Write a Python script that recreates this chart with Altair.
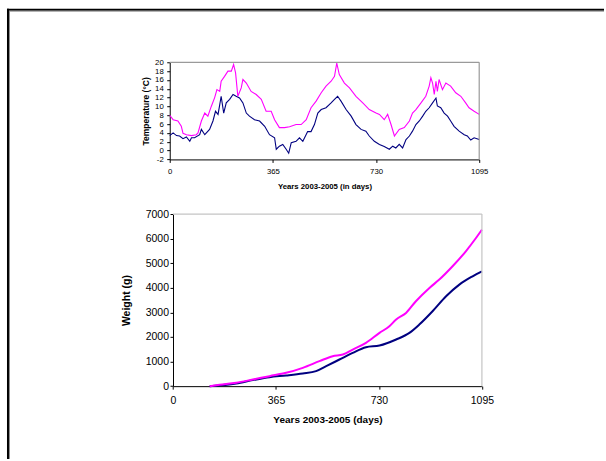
import altair as alt
import pandas as pd

# Daily water temperature (°C) over three years, two rearing sites
warm_days = [0, 12, 29, 41, 47, 59, 77, 94, 100, 112, 124, 135, 147, 159, 167, 177, 182, 194,
             206, 218, 226, 233, 241, 253, 259, 271, 288, 306, 324, 341, 359, 371, 388, 406,
             424, 447, 465, 483, 500, 518, 536, 553, 571, 583, 591, 600, 618, 636, 659, 683,
             706, 730, 742, 759, 771, 783, 795, 812, 830, 848, 859, 871, 889, 906, 918, 924,
             930, 936, 942, 947, 953, 965, 977, 994, 1012, 1030, 1047, 1059, 1077, 1095]
warm_temp = [8.0, 7.0, 6.7, 5.5, 3.9, 3.6, 3.4, 3.6, 4.0, 6.7, 8.5, 7.8, 10.0, 12.0, 13.8, 13.4,
             15.7, 16.8, 18.0, 18.0, 19.5, 17.6, 12.3, 14.2, 16.1, 15.3, 13.4, 12.7, 11.6, 8.9,
             8.9, 7.0, 5.2, 5.2, 5.4, 5.9, 5.9, 7.0, 9.7, 11.2, 13.1, 14.6, 15.7, 16.8, 19.8,
             17.2, 15.3, 14.2, 12.3, 10.8, 9.3, 8.5, 8.2, 7.0, 8.2, 5.9, 3.3, 4.8, 5.2, 6.7, 8.5,
             9.3, 10.8, 12.3, 14.6, 16.5, 15.3, 12.7, 15.7, 13.4, 16.1, 13.8, 15.3, 14.6, 13.1,
             12.3, 10.8, 9.7, 8.9, 8.2]

cool_days = [0, 12, 24, 35, 47, 59, 71, 77, 88, 106, 112, 124, 141, 153, 162, 171, 177, 182,
             191, 200, 212, 224, 235, 247, 259, 271, 282, 300, 318, 336, 353, 371, 377, 388,
             400, 412, 421, 430, 447, 459, 471, 488, 500, 512, 524, 536, 553, 571, 583, 594,
             606, 624, 642, 659, 677, 694, 706, 724, 742, 759, 777, 789, 800, 812, 824, 836,
             848, 859, 871, 883, 895, 906, 918, 930, 942, 947, 959, 971, 983, 994, 1006, 1024,
             1042, 1053, 1065, 1077, 1095]
cool_temp = [3.4, 4.0, 3.4, 3.3, 2.7, 3.1, 2.1, 2.9, 2.9, 3.6, 4.8, 3.6, 4.8, 6.7, 8.9, 8.2,
             10.4, 12.3, 8.5, 10.8, 11.6, 12.7, 12.3, 11.9, 10.8, 8.5, 7.8, 7.0, 6.7, 5.5, 3.6,
             2.9, 0.3, 1.0, 1.4, 0.3, -0.6, 1.8, 2.1, 2.9, 2.1, 4.3, 4.3, 5.9, 8.5, 9.3, 9.7,
             10.8, 11.6, 12.3, 11.2, 9.3, 7.8, 5.9, 4.8, 4.4, 3.3, 2.1, 1.4, 0.9, 0.3, 1.0, 0.6,
             1.4, 0.6, 2.5, 3.3, 4.4, 5.9, 6.7, 7.8, 8.9, 9.7, 10.8, 11.9, 10.1, 9.7, 8.5, 7.8,
             6.7, 5.5, 4.4, 3.6, 3.3, 2.4, 2.9, 2.5]

# Mean fish weight (g) at each site
wt_warm_days = [130, 165, 224, 283, 342, 401, 460, 519, 566, 602, 637, 684, 732, 767, 791,
                826, 861, 909, 944, 991, 1038, 1074, 1095]
wt_warm = [0, 54, 135, 270, 406, 541, 745, 1015, 1219, 1286, 1489, 1760, 2166, 2437, 2708,
           2979, 3453, 3994, 4333, 4874, 5484, 6025, 6364]
wt_cool_days = [130, 224, 283, 342, 401, 460, 507, 543, 590, 637, 684, 732, 791, 838, 873,
                920, 968, 1015, 1062, 1095]
wt_cool = [0, 108, 244, 366, 433, 514, 609, 812, 1083, 1354, 1584, 1652, 1896, 2166, 2505,
           3047, 3656, 4130, 4468, 4671]

day_ticks = [0, 365, 730, 1095]
temp_ticks = list(range(-2, 21, 2))
weight_ticks = list(range(0, 7001, 1000))

FONT = "Liberation Sans"
PINK = "#FF00FF"
NAVY = "#000080"
PLAIN = "'' + datum.value"  # hyphen-minus, no thousands separator

warm_df = pd.DataFrame({"day": warm_days, "temp": warm_temp})
cool_df = pd.DataFrame({"day": cool_days, "temp": cool_temp})
wwarm_df = pd.DataFrame({"day": wt_warm_days, "weight": wt_warm})
wcool_df = pd.DataFrame({"day": wt_cool_days, "weight": wt_cool})
one = pd.DataFrame({"k": [0]})


def axis(**kw):
    return alt.Axis(labelExpr=PLAIN, labelOverlap=False, labelFlush=False, labelBound=False,
                    tickCount=len(kw.get("values", [])) or 5, **kw)


# ---------- temperature panel ----------
W1, H1 = 310, 97.3
tx = alt.X("day:Q", scale=alt.Scale(domain=[0, 1095], nice=False, zero=False),
           axis=axis(values=day_ticks, title="Years 2003-2005 (in days)",
                     labelFontSize=7.8, tickSize=3, labelPadding=5.5,
                     titleFontSize=7.8, titleY=26.7, titleBaseline="middle"))
ty = alt.Y("temp:Q", scale=alt.Scale(domain=[-2, 20], nice=False, zero=False),
           axis=axis(values=temp_ticks, title="Temperature (°C)",
                     labelFontSize=7.8, tickSize=3, labelPadding=3.5,
                     titleFontSize=8.5, titleAngle=270, titleX=-24, titleY=H1 / 2,
                     titleAlign="center", titleBaseline="middle"))

cool_line = alt.Chart(cool_df).mark_line(color=NAVY, strokeWidth=1.1).encode(x=tx, y=ty)
warm_line = alt.Chart(warm_df).mark_line(color=PINK, strokeWidth=1.1).encode(x="day:Q", y="temp:Q")


def rule(color, width, **enc):
    return alt.Chart(one).mark_rule(color=color, strokeWidth=width).encode(**enc)


top_border = rule("#9a9a9a", 1.2, x=alt.value(0), x2=alt.value(W1), y=alt.value(0))
right_border = rule("#9a9a9a", 1.2, x=alt.value(W1), y=alt.value(0), y2=alt.value(H1))

# page frame (drawn relative to the temperature panel)
frame = [
    rule("#000000", 2, x=alt.value(-162), y=alt.value(-53.7), y2=alt.value(397.3)),
    rule("#8c8c8c", 1, x=alt.value(-160.5), y=alt.value(-51.7), y2=alt.value(397.3)),
    rule("#000000", 2, x=alt.value(-163), x2=alt.value(435), y=alt.value(-52.7)),
    rule("#8c8c8c", 1, x=alt.value(-161), x2=alt.value(435), y=alt.value(-51.2)),
]

temp_panel = alt.layer(cool_line, warm_line, top_border, right_border, *frame).properties(
    width=W1, height=H1)

# ---------- weight panel ----------
W2, H2 = 313, 172.4
X0 = 3.3
wx = alt.X("day:Q", scale=alt.Scale(domain=[0, 1095], nice=False, zero=False, range=[X0, W2 - 0.3]),
           axis=axis(values=day_ticks, title="Years 2003-2005 (days)",
                     labelFontSize=10.5, tickSize=3, labelPadding=6,
                     titleFontSize=10, titleY=33.3, titleBaseline="middle"))
wy = alt.Y("weight:Q", scale=alt.Scale(domain=[0, 7000], nice=False),
           axis=axis(values=weight_ticks, title="Weight (g)", offset=-X0,
                     labelFontSize=10.5, tickSize=3, labelPadding=1.5,
                     titleFontSize=10.5, titleAngle=270, titleX=-46.3, titleY=H2 / 2,
                     titleAlign="center", titleBaseline="middle"))

wcool_line = alt.Chart(wcool_df).mark_line(color=NAVY, strokeWidth=2, interpolate="monotone").encode(x=wx, y=wy)
wwarm_line = alt.Chart(wwarm_df).mark_line(color=PINK, strokeWidth=2, interpolate="monotone").encode(
    x="day:Q", y="weight:Q")
w_top = rule("#c4c4c4", 1.2, x=alt.value(X0), x2=alt.value(W2 - 0.3), y=alt.value(0))
w_right = rule("#c4c4c4", 1.2, x=alt.value(W2 - 0.3), y=alt.value(0), y2=alt.value(H2))

weight_panel = alt.layer(wcool_line, wwarm_line, w_top, w_right).properties(width=W2, height=H2)

chart = (
    alt.vconcat(temp_panel, weight_panel, spacing=54, bounds="flush")
    .properties(padding={"left": 5, "top": 6, "right": 0, "bottom": 0}, background="white")
    .configure_view(stroke="transparent")
    .configure_axis(grid=False, domainColor="#000000", domainWidth=1, tickColor="#000000",
                    tickWidth=1, labelColor="#000000", titleColor="#000000", labelFont=FONT,
                    titleFont=FONT, titleFontWeight="bold")
)

chart.save("out.html", embed_options={"renderer": "svg", "actions": False})
